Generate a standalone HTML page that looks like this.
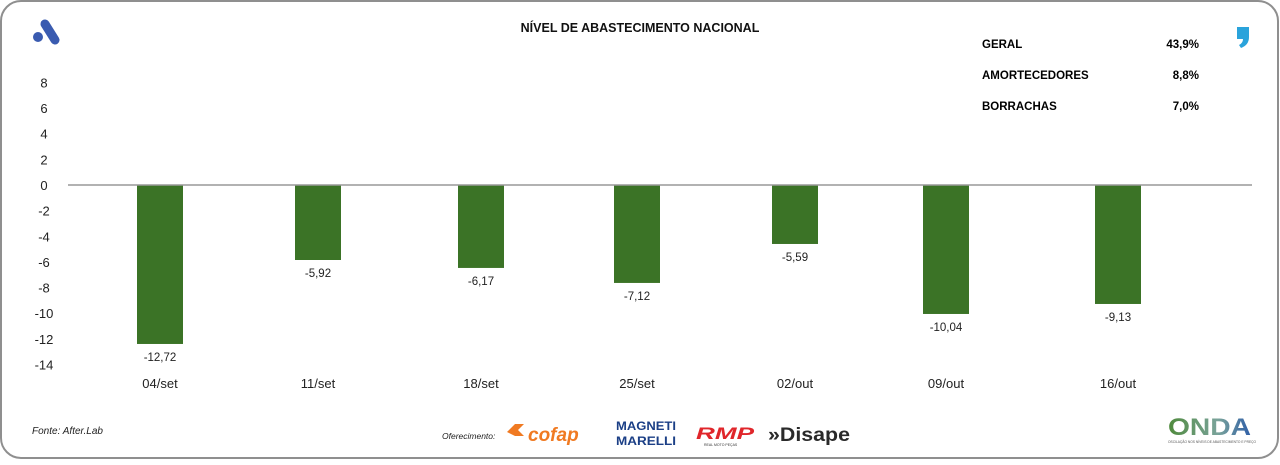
<!DOCTYPE html>
<html><head><meta charset="utf-8">
<style>
html,body{margin:0;padding:0;background:#fff;}
body{width:1280px;height:460px;position:relative;overflow:hidden;font-family:"Liberation Sans",sans-serif;}
svg text{font-family:"Liberation Sans",sans-serif;}
</style></head>
<body>
<svg width="1280" height="460" viewBox="0 0 1280 460">
  <rect x="1" y="1" width="1277" height="457" rx="20" ry="20" fill="#fff" stroke="#8f8f8f" stroke-width="2"/>
  <g>
    <line x1="45" y1="24" x2="55" y2="40" stroke="#3a5bb0" stroke-width="9" stroke-linecap="round"/>
    <circle cx="38" cy="37" r="5" fill="#3a5bb0"/>
  </g>
  <text x="640" y="32" text-anchor="middle" font-size="12.5" font-weight="bold" fill="#111">NÍVEL DE ABASTECIMENTO NACIONAL</text>
  <g>
    <text x="982" y="48" font-size="11.5" font-weight="bold">GERAL</text>
    <text x="1199" y="48" font-size="11.5" font-weight="bold" text-anchor="end">43,9%</text>
    <text x="982" y="79" font-size="11.5" font-weight="bold">AMORTECEDORES</text>
    <text x="1199" y="79" font-size="11.5" font-weight="bold" text-anchor="end">8,8%</text>
    <text x="982" y="110" font-size="11.5" font-weight="bold">BORRACHAS</text>
    <text x="1199" y="110" font-size="11.5" font-weight="bold" text-anchor="end">7,0%</text>
  </g>
  <g>
    <path d="M1237 27 h12 v10 q0 8 -8 11 l-2 -3 q4 -2 4 -6 h-6 z" fill="#2aa3db"/>
  </g>
  <g id="yaxis"></g>
  <g id="bars"></g>
  <g id="xaxis"></g>
  <text x="32" y="434" font-size="10" font-style="italic" fill="#222">Fonte: After.Lab</text>
  <text x="442" y="439" font-size="8.5" font-style="italic" fill="#222">Oferecimento:</text>
  <g>
    <path d="M507 432 l8 -8 h9 l-6 6 l6 6 h-9 z" fill="#f07a22"/>
    <text x="528" y="441" font-size="19" font-weight="bold" font-style="italic" fill="#f07a22">cofap</text>
  </g>
  <g>
    <text x="646" y="430" font-size="12" font-weight="bold" fill="#1b3f86" text-anchor="middle" textLength="60" lengthAdjust="spacingAndGlyphs">MAGNETI</text>
    <text x="646" y="445" font-size="12" font-weight="bold" fill="#1b3f86" text-anchor="middle" textLength="60" lengthAdjust="spacingAndGlyphs">MARELLI</text>
  </g>
  <g>
    <text x="696" y="439" font-size="17" font-weight="bold" font-style="italic" fill="#e0262b" textLength="58" lengthAdjust="spacingAndGlyphs">RMP</text>
    <text x="704" y="446" font-size="3.5" fill="#333">REAL MOTO PEÇAS</text>
  </g>
  <g>
    <text x="768" y="441" font-size="19" font-weight="bold" fill="#2a2a2a" textLength="82" lengthAdjust="spacingAndGlyphs">»Disape</text>
  </g>
  <g>
    <defs><linearGradient id="og" x1="0" x2="1"><stop offset="0" stop-color="#4f8a3c"/><stop offset="0.6" stop-color="#7aa39a"/><stop offset="1" stop-color="#2f5fa8"/></linearGradient></defs>
    <text x="1168" y="435" font-size="24" font-weight="bold" fill="url(#og)" textLength="83" lengthAdjust="spacingAndGlyphs">ONDA</text>
    <text x="1168" y="443" font-size="3.5" fill="#555" textLength="88" lengthAdjust="spacingAndGlyphs">OSCILAÇÃO NOS NÍVEIS DE ABASTECIMENTO E PREÇO</text>
  </g>
</svg>
<script>
const categories = ["04/set","11/set","18/set","25/set","02/out","09/out","16/out"];
const barValues = [-12.4,-5.85,-6.47,-7.64,-4.6,-10.06,-9.28];
const labelValues = ["-12,72","-5,92","-6,17","-7,12","-5,59","-10,04","-9,13"];
const yTicks = [8,6,4,2,0,-2,-4,-6,-8,-10,-12,-14];
const catCenters = [160,318,481,637,795,946,1118];

const NS="http://www.w3.org/2000/svg";
function y(v){ return 185 - v*12.82; }
function x(i){ return catCenters[i]; }
function mk(tag,attrs,parent){const e=document.createElementNS(NS,tag);for(const k in attrs)e.setAttribute(k,attrs[k]);parent.appendChild(e);return e;}

const ya=document.getElementById('yaxis');
yTicks.forEach(t=>{
  const e=mk('text',{x:44,y:y(t)+5,'text-anchor':'middle','font-size':'13',fill:'#222'},ya);
  
  
  e.textContent=String(t);
});
const bars=document.getElementById('bars');
barValues.forEach((v,i)=>{
  const top=Math.min(y(0),y(v)), h=Math.abs(y(v)-y(0));
  const r=mk('rect',{x:x(i)-23,y:top,width:46,height:h,fill:'#3b7326'},bars);
  
  
  const t=mk('text',{x:x(i),y:y(v)+17,'text-anchor':'middle','font-size':'11.5',fill:'#222'},bars);
  
  
  t.textContent=labelValues[i];
});
const zl=mk('line',{x1:68,y1:y(0),x2:1252,y2:y(0),stroke:'#999','stroke-width':'1.5'},bars);


const xa=document.getElementById('xaxis');
categories.forEach((c,i)=>{
  const t=mk('text',{x:x(i),y:388,'text-anchor':'middle','font-size':'13',fill:'#222'},xa);
  
  
  t.textContent=c;
});
</script>
</body></html>
